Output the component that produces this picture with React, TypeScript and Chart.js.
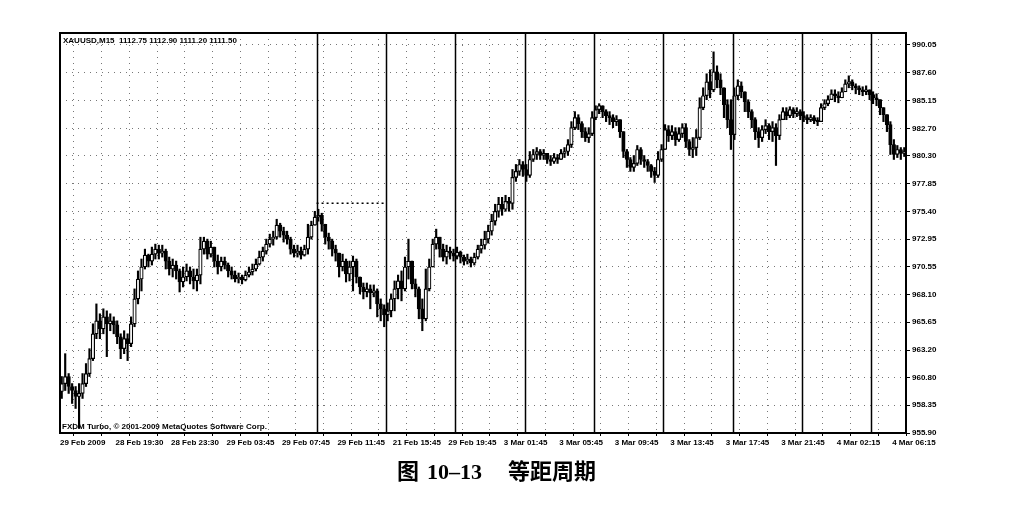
import React, { useEffect, useRef } from "react";
import { Chart, registerables } from "chart.js";

Chart.register(...registerables);

const headerText = "XAUUSD,M15  1112.75 1112.90 1111.20 1111.50";
const footerText = "FXDM Turbo, © 2001-2009 MetaQuotes Software Corp.";

const xTickLabels = [
  "29 Feb 2009", "28 Feb 19:30", "28 Feb 23:30", "29 Feb 03:45", "29 Feb 07:45",
  "29 Feb 11:45", "21 Feb 15:45", "29 Feb 19:45", "3 Mar 01:45", "3 Mar 05:45",
  "3 Mar 09:45", "3 Mar 13:45", "3 Mar 17:45", "3 Mar 21:45", "4 Mar 02:15", "4 Mar 06:15",
];

const yTicks = [
  990.05, 987.6, 985.15, 982.7, 980.3, 977.85, 975.4, 972.95, 970.55, 968.1,
  965.65, 963.2, 960.8, 958.35, 955.9,
];

const firstOpen = 959.55;

const closes = [
  960.25, 960.87, 959.99, 959.64, 959.11, 959.38, 960.25, 961.13, 962.44, 964.63,
  965.77, 965.07, 966.12, 965.51, 965.77, 965.42, 964.37, 963.32, 964.20, 963.76,
  965.51, 967.70, 969.45, 970.51, 971.56, 971.03, 971.64, 972.08, 971.73, 971.91,
  971.03, 970.33, 970.68, 970.16, 969.19, 969.63, 970.16, 969.63, 969.28, 969.80,
  972.08, 972.78, 971.64, 972.26, 971.03, 970.51, 971.03, 970.68, 970.16, 969.80,
  969.45, 969.63, 969.37, 969.80, 970.07, 970.33, 970.77, 971.38, 971.91, 972.52,
  972.96, 973.13, 974.19, 973.66, 973.31, 972.96, 972.08, 971.73, 971.91, 971.56,
  972.08, 973.13, 974.19, 974.89, 975.06, 974.27, 973.13, 972.78, 972.08, 971.73,
  970.51, 971.03, 969.89, 970.51, 971.03, 969.63, 968.75, 968.31, 968.58, 968.23,
  968.40, 967.26, 966.83, 966.30, 966.65, 967.70, 968.58, 969.28, 968.58, 970.51,
  971.03, 969.02, 968.58, 966.83, 965.95, 968.58, 970.51, 972.52, 973.13, 972.08,
  971.38, 971.91, 971.73, 971.47, 971.82, 971.38, 971.03, 971.21, 970.86, 971.38,
  972.08, 972.43, 972.96, 973.66, 974.54, 975.41, 976.03, 975.59, 976.29, 976.11,
  978.39, 978.92, 979.53, 979.09, 978.57, 979.97, 980.41, 980.67, 980.32, 980.50,
  979.97, 979.79, 980.14, 979.97, 980.50, 980.67, 981.28, 982.77, 983.65, 983.12,
  982.42, 981.90, 982.25, 983.65, 984.35, 984.70, 984.18, 983.83, 983.65, 983.30,
  983.47, 982.42, 980.67, 979.97, 979.27, 979.62, 980.85, 979.97, 979.79, 979.44,
  978.92, 978.57, 979.97, 980.85, 982.60, 982.07, 982.42, 981.72, 982.25, 982.77,
  981.55, 980.85, 981.02, 981.90, 984.53, 985.58, 986.80, 986.10, 987.68, 986.98,
  986.28, 984.79, 983.47, 982.16, 985.58, 986.45, 985.93, 985.05, 984.18, 983.47,
  982.42, 981.90, 982.60, 982.95, 982.42, 982.77, 982.07, 983.47, 984.18, 983.83,
  984.35, 984.00, 984.18, 983.83, 983.65, 983.47, 983.65, 983.39, 983.30, 984.53,
  984.88, 985.23, 985.75, 985.58, 985.40, 985.93, 986.63, 986.80, 986.45, 986.28,
  986.10, 985.93, 986.10, 985.67, 985.40, 985.23, 984.53, 983.91, 983.04, 981.28,
  980.41, 980.85, 980.50, 980.67,
];

const highs = [
  960.87, 962.88, 961.13, 960.25, 959.99, 960.25, 961.13, 962.01, 963.32, 965.51,
  967.26, 966.39, 966.83, 966.65, 966.39, 966.12, 965.77, 964.63, 964.90, 964.63,
  966.12, 968.58, 970.16, 971.21, 972.08, 971.64, 972.26, 972.52, 972.43, 972.43,
  972.08, 971.38, 971.21, 971.03, 970.33, 970.51, 970.77, 970.51, 970.33, 970.33,
  973.13, 973.13, 972.96, 972.78, 972.26, 971.56, 971.38, 971.38, 970.86, 970.51,
  970.16, 969.98, 969.80, 970.16, 970.51, 970.77, 971.21, 971.91, 972.26, 972.96,
  973.40, 973.66, 974.71, 974.36, 974.01, 973.66, 973.13, 972.43, 972.43, 972.26,
  972.43, 974.27, 974.54, 975.41, 975.59, 975.24, 974.27, 973.49, 972.96, 972.43,
  971.64, 971.64, 971.21, 971.03, 971.47, 971.21, 969.63, 969.10, 969.10, 968.93,
  968.93, 968.58, 967.70, 967.18, 967.35, 968.14, 969.28, 969.80, 970.16, 971.38,
  972.96, 971.03, 969.45, 968.75, 967.70, 970.33, 971.21, 972.96, 973.84, 973.13,
  972.52, 972.43, 972.26, 972.08, 972.26, 971.91, 971.56, 971.64, 971.38, 971.73,
  972.43, 972.96, 973.66, 974.19, 975.15, 976.03, 976.64, 976.64, 976.82, 976.64,
  979.09, 979.53, 979.97, 979.79, 979.53, 980.67, 980.85, 981.02, 980.85, 980.85,
  980.50, 980.32, 980.50, 980.41, 980.85, 981.02, 981.72, 983.30, 984.18, 983.91,
  983.30, 982.77, 982.77, 984.18, 984.70, 984.88, 984.70, 984.35, 984.18, 983.91,
  983.83, 983.47, 982.42, 980.85, 980.14, 980.32, 981.20, 981.02, 980.32, 979.97,
  979.53, 979.27, 980.67, 981.28, 983.04, 982.95, 982.95, 982.77, 982.77, 983.12,
  983.12, 981.72, 981.90, 982.60, 985.40, 986.28, 987.51, 987.86, 989.44, 988.21,
  987.51, 986.28, 985.23, 985.23, 986.28, 986.98, 986.80, 985.75, 985.23, 984.35,
  983.65, 982.77, 982.95, 983.47, 983.12, 983.30, 983.12, 983.91, 984.53, 984.53,
  984.61, 984.53, 984.53, 984.35, 984.18, 983.91, 983.91, 983.83, 983.65, 984.88,
  985.23, 985.58, 986.10, 986.10, 985.93, 986.28, 986.98, 987.33, 986.98, 986.63,
  986.45, 986.37, 986.45, 986.10, 985.93, 985.75, 985.23, 984.53, 983.91, 983.30,
  981.72, 981.20, 981.02, 981.02,
];

const lows = [
  958.94, 959.64, 959.38, 958.50, 958.06, 956.31, 958.94, 959.99, 960.87, 962.27,
  964.20, 964.20, 964.63, 962.62, 964.90, 964.63, 963.76, 962.44, 962.88, 962.27,
  963.50, 965.25, 967.26, 968.40, 970.33, 970.51, 970.68, 971.21, 971.21, 971.38,
  970.33, 969.80, 969.63, 969.45, 968.31, 968.75, 969.28, 969.02, 968.58, 968.40,
  969.02, 971.64, 971.21, 971.38, 970.51, 969.89, 970.16, 970.33, 969.63, 969.45,
  969.19, 969.10, 969.02, 969.28, 969.63, 969.80, 970.16, 970.68, 971.03, 971.64,
  972.26, 972.43, 972.96, 973.13, 972.70, 972.52, 971.64, 971.38, 971.38, 971.21,
  971.47, 971.64, 972.96, 974.19, 974.54, 973.66, 972.52, 972.08, 971.47, 971.03,
  969.63, 970.16, 969.19, 969.28, 968.40, 969.10, 968.14, 967.70, 967.88, 966.83,
  967.88, 966.12, 965.77, 965.25, 965.77, 966.12, 966.65, 967.70, 967.53, 968.40,
  969.45, 968.58, 967.88, 965.95, 964.90, 965.77, 968.40, 970.51, 972.08, 971.38,
  971.03, 970.77, 971.21, 971.03, 971.21, 970.86, 970.68, 970.77, 970.51, 970.68,
  971.21, 971.73, 972.08, 972.61, 973.31, 974.19, 974.89, 975.06, 975.41, 975.41,
  975.59, 978.04, 978.57, 978.48, 978.04, 978.39, 979.79, 979.97, 979.97, 979.97,
  979.62, 979.44, 979.62, 979.62, 979.97, 980.14, 980.32, 981.02, 982.60, 982.60,
  981.90, 981.55, 981.46, 982.07, 983.47, 984.00, 983.65, 983.30, 983.04, 982.77,
  982.95, 981.90, 980.14, 979.27, 978.92, 978.92, 979.44, 979.53, 979.27, 978.92,
  978.39, 977.95, 978.39, 979.79, 980.85, 981.55, 981.72, 981.20, 981.55, 981.90,
  981.02, 980.32, 980.14, 980.32, 981.72, 984.35, 985.23, 985.40, 985.93, 986.28,
  985.67, 983.65, 982.77, 980.85, 981.72, 985.23, 985.40, 984.18, 983.65, 982.77,
  981.72, 981.02, 981.55, 982.25, 981.72, 981.55, 979.44, 981.72, 983.47, 983.47,
  983.65, 983.65, 983.74, 983.47, 983.30, 983.12, 983.30, 983.12, 982.95, 984.00,
  984.35, 984.70, 985.23, 985.05, 984.96, 985.40, 986.10, 986.28, 986.10, 985.75,
  985.67, 985.58, 985.67, 985.23, 984.88, 984.70, 983.91, 983.30, 982.42, 980.41,
  979.97, 980.14, 979.97, 980.23,
];

const periodLines = [73.5, 93.5, 113.5, 133.5, 153.5, 173.5, 193.5, 213.5, 233.5];
const dottedLevel = 976.11;
const dottedFrom = 73.5;
const dottedTo = 93.5;

const X_MIN = -0.5;
const X_MAX = 243.5;
const Y_MIN = 955.9;
const Y_MAX = 991.1;

export default function App() {
  const ref = useRef<HTMLCanvasElement | null>(null);

  useEffect(() => {
    if (!ref.current) return;
    const opens = closes.map((c, i) => (i === 0 ? firstOpen : closes[i - 1]));
    const wickData = closes.map((c, i) => ({
      x: i,
      y: [Math.min(lows[i], opens[i], c), Math.max(highs[i], opens[i], c)],
    }));
    const bodyData = closes.map((c, i) => ({
      x: i,
      y: [Math.min(opens[i], c), Math.max(opens[i], c)],
    }));
    const bodyColors = closes.map((c, i) => (c >= opens[i] ? "#ffffff" : "#000000"));

    const overlay = {
      id: "overlay",
      afterDatasetsDraw(chart: any) {
        const { ctx, chartArea, scales } = chart;
        ctx.save();
        ctx.strokeStyle = "#000";
        ctx.lineWidth = 1.5;
        for (const v of periodLines) {
          const px = Math.round(scales.x.getPixelForValue(v)) + 0.5;
          ctx.beginPath();
          ctx.moveTo(px, chartArea.top);
          ctx.lineTo(px, chartArea.bottom);
          ctx.stroke();
        }
        ctx.lineWidth = 2;
        ctx.strokeRect(chartArea.left, chartArea.top, chartArea.right - chartArea.left, chartArea.bottom - chartArea.top);
        ctx.fillStyle = "#000";
        ctx.font = "bold 8px 'Liberation Sans', Arial, sans-serif";
        ctx.textBaseline = "top";
        ctx.textAlign = "left";
        ctx.fillText(headerText, chartArea.left + 3, chartArea.top + 4);
        ctx.textBaseline = "bottom";
        ctx.fillText(footerText, chartArea.left + 2, chartArea.bottom - 2);
        ctx.restore();
      },
    };

    const chart = new Chart(ref.current, {
      type: "bar",
      data: {
        datasets: [
          {
            type: "line",
            data: [
              { x: dottedFrom, y: dottedLevel },
              { x: dottedTo, y: dottedLevel },
            ],
            borderColor: "#000",
            borderWidth: 1.5,
            borderDash: [2, 3],
            pointRadius: 0,
            order: 0,
          } as any,
          {
            data: bodyData as any,
            backgroundColor: bodyColors,
            borderColor: "#000",
            borderWidth: 1.2,
            borderSkipped: false,
            barThickness: 3.5,
            minBarLength: 1.5,
            grouped: false,
            order: 1,
          },
          {
            data: wickData as any,
            backgroundColor: "#000",
            borderWidth: 0,
            barThickness: 1.5,
            grouped: false,
            order: 2,
          },
        ],
      },
      options: {
        responsive: false,
        animation: false,
        layout: { padding: { left: 52, top: 25, right: 58, bottom: 14 } },
        plugins: { legend: { display: false }, tooltip: { enabled: false }, title: { display: false } },
        scales: {
          x: {
            type: "linear",
            min: X_MIN,
            max: X_MAX,
            offset: false,
            afterBuildTicks: (s: any) => {
              const t: any[] = [];
              for (let k = 0; k <= 30; k++) t.push({ value: X_MIN + 8 * k });
              s.ticks = t;
            },
            afterFit: (s: any) => {
              s.height = 21;
            },
            grid: {
              color: "#777",
              lineWidth: 1,
              tickLength: 3,
              tickColor: "#000",
              tickBorderDash: [],
            },
            border: { display: false, dash: [1, 5] },
            ticks: {
              autoSkip: false,
              maxRotation: 0,
              minRotation: 0,
              align: "start",
              padding: 2,
              color: "#000",
              font: { family: "'Liberation Sans', Arial, sans-serif", size: 8, weight: "bold" },
              callback: (_v: any, i: number) => (i % 2 === 0 ? xTickLabels[i / 2] ?? "" : ""),
            },
          },
          y: {
            type: "linear",
            position: "right",
            min: Y_MIN,
            max: Y_MAX,
            afterBuildTicks: (s: any) => {
              s.ticks = yTicks.map((v) => ({ value: v }));
            },
            afterFit: (s: any) => {
              s.width = 44;
            },
            grid: {
              color: "#777",
              lineWidth: 1,
              tickLength: 4,
              tickColor: "#000",
              tickBorderDash: [],
            },
            border: { display: false, dash: [1, 5] },
            ticks: {
              padding: 2,
              color: "#000",
              font: { family: "'Liberation Sans', Arial, sans-serif", size: 8, weight: "bold" },
              callback: (v: any) => Number(v).toFixed(2),
            },
          },
        },
      },
      plugins: [overlay],
    } as any);

    return () => chart.destroy();
  }, []);

  return (
    <div style={{ position: "relative", width: 1000, height: 490, background: "#fff" }}>
      <canvas ref={ref} width={1000} height={460} style={{ position: "absolute", left: 0, top: 0 }} />
      <div
        style={{
          position: "absolute",
          left: 389,
          top: 446,
          fontSize: 22,
          fontWeight: "bold",
          whiteSpace: "nowrap",
          lineHeight: "30px",
          color: "#000",
        }}
      >
        <span style={{ fontFamily: "'Noto Sans CJK SC', sans-serif" }}>图</span>
        <span style={{ fontFamily: "'Liberation Serif', serif", marginLeft: 8 }}>10–13</span>
        <span style={{ fontFamily: "'Noto Sans CJK SC', sans-serif", marginLeft: 26 }}>等距周期</span>
      </div>
    </div>
  );
}
